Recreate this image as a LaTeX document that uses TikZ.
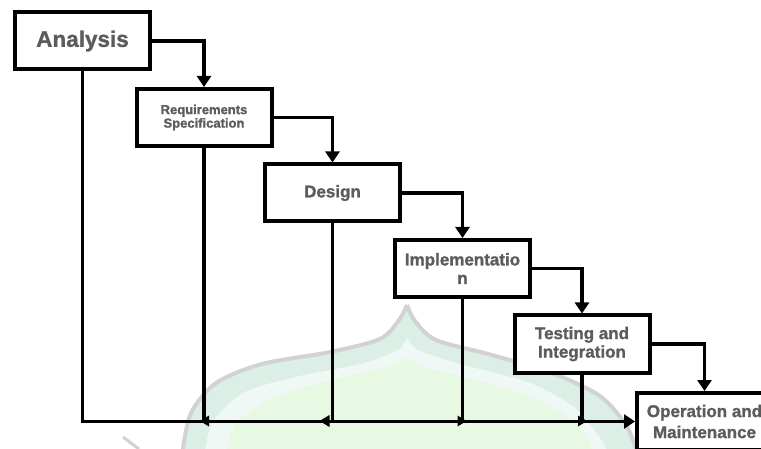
\documentclass[tikz,border=0pt]{standalone}
\usepackage{fontspec}
\setmainfont{Liberation Sans}
\newfontfamily\heavy{Liberation Sans}[UprightFont=*-Bold, FakeBold=1.3]
\usetikzlibrary{arrows.meta}
\definecolor{txtgray}{HTML}{5C5C5C}
\definecolor{wmgray}{HTML}{D2D2D2}
\definecolor{wmteal}{HTML}{DBEFE6}
\definecolor{wmgreen}{HTML}{E8F9E3}
\begin{document}
\begin{tikzpicture}[x=1pt,y=-1pt,
  stage/.style={draw=black, line width=4pt, fill=white, minimum width=135pt,
    minimum height=57pt, inner sep=0pt, text=txtgray, align=center,
    font=\heavy\fontsize{17}{18.5}\selectfont},
  link/.style={line width=3.8pt, -{Triangle[width=14pt,length=11pt]}},
  rail/.style={line width=3.8pt},
  tick/.style={fill=black}]
\clip (0,0) rectangle (761,449);
\useasboundingbox (0,0) rectangle (761,449);

% faint watermark
\fill[wmteal] plot[smooth] coordinates {(183,449) (191,413) (216,383) (262,364) (330,352) (380,339) (399,320) (407,305)}
  -- plot[smooth] coordinates {(407,305) (415,321) (436,340) (492,355) (552,373) (600,396) (626,425) (636,449)} -- cycle;
\fill[white, opacity=0.6] plot[smooth] coordinates {(205,449) (214,420) (245,392) (300,376) (360,364) (398,350) (407,337)}
  -- plot[smooth] coordinates {(407,337) (418,350) (460,364) (530,383) (575,408) (598,435) (606,449)} -- cycle;
\fill[wmgreen] plot[smooth] coordinates {(227,449) (238,421) (278,396) (340,378) (388,367) (407,357)}
  -- plot[smooth] coordinates {(407,357) (428,368) (480,381) (540,401) (578,425) (592,449)} -- cycle;
\draw[wmgray, line width=4pt] plot[smooth] coordinates {(183,449) (191,413) (216,383) (262,364) (330,352) (380,339) (399,320) (407,305)};
\draw[wmgray, line width=4pt] plot[smooth] coordinates {(407,305) (415,321) (436,340) (492,355) (552,373) (600,396) (626,425) (636,449)};
\draw[wmgray, line width=3pt] (123,437) -- (139,449);

% stages
\node[stage, font=\heavy\fontsize{22.5}{24}\selectfont] (ana) at (82.5,41) {Analysis};
\node[stage, font=\heavy\fontsize{13}{13.5}\selectfont] (req) at (204,117.5) {Requirements\\Specification};
\node[stage] (des) at (332.5,193) {Design};
\node[stage] (imp) at (462.5,268.5) {Implementatio\\n};
\node[stage] (tst) at (582,344) {Testing and\\Integration};
\node[stage, font=\heavy\fontsize{17}{21}\selectfont] (ops) at (704.5,421.5) {Operation and\\Maintenance};

% forward flow
\draw[link] (ana.east) -| (req.north);
\draw[link] (req.east) -| (des.north);
\draw[link] (des.east) -| (imp.north);
\draw[link] (imp.east) -| (tst.north);
\draw[link] (tst.east) -| (ops.north);

% bottom rail
\coordinate (rail) at (0,421);
\draw[link] (ana.south) |- (ops.west);
\draw[rail] (req.south) -- (req.south |- rail);
\draw[rail] (des.south) -- (des.south |- rail);
\draw[rail] (imp.south) -- (imp.south |- rail);
\draw[rail] (tst.south) -- (tst.south |- rail);

% small arrowheads on the rail
\coordinate (t1) at (req.south |- rail);
\coordinate (t2) at (des.south |- rail);
\coordinate (t3) at (imp.south |- rail);
\coordinate (t4) at (tst.south |- rail);
\fill[tick] (t1) ++(-4,0) -- ++(9,-5.5) -- ++(0,11) -- cycle;
\fill[tick] (t2) ++(-13,0) -- ++(10,-6) -- ++(0,12) -- cycle;
\fill[tick] (t3) ++(4,0) -- ++(-9,-5.5) -- ++(0,11) -- cycle;
\fill[tick] (t4) ++(5,0) -- ++(-9,-5.5) -- ++(0,11) -- cycle;
\end{tikzpicture}
\end{document}
